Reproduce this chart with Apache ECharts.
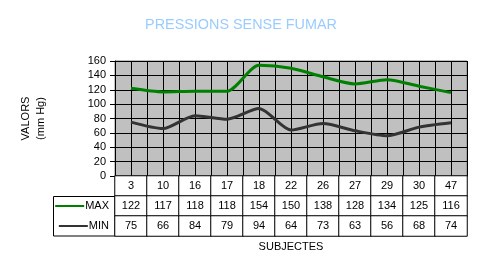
<!DOCTYPE html>
<html>
<head>
<meta charset="utf-8">
<script src="https://cdn.jsdelivr.net/npm/echarts@6/dist/echarts.min.js"></script>
<style>html,body{margin:0;padding:0;background:#fff;}#c{width:482px;height:274px;}</style>
</head>
<body>
<div id="c"></div>
<script>
const categories = ['3','10','16','17','18','22','26','27','29','30','47'];
const maxValues = [122,117,118,118,154,150,138,128,134,125,116];
const minValues = [75,66,84,79,94,64,73,63,56,68,74];
const rowNames = ['MIN','MAX',''];
const yMin = 0, yMax = 160, yStep = 20;

const FONT = 'Liberation Sans, Arial, sans-serif';
const halfCats = [];
categories.forEach(c => { halfCats.push(c + 'a'); halfCats.push(c + 'b'); });

const tableData = [];
categories.forEach((c, i) => {
  tableData.push([i, 2, Number(c)]);
  tableData.push([i, 1, maxValues[i]]);
  tableData.push([i, 0, minValues[i]]);
});

const chart = echarts.init(document.getElementById('c'), null, {renderer: 'canvas'});
chart.setOption({
  animation: false,
  textStyle: {fontFamily: FONT},
  title: {
    text: 'PRESSIONS SENSE FUMAR', left: 'center', top: 13,
    textStyle: {color: '#99ccff', fontSize: 14.4, fontWeight: 'normal', fontFamily: FONT}
  },
  grid: [
    {left: 115, right: 15, top: 61, height: 115, show: true, backgroundColor: '#c0c0c0', borderColor: '#808080', borderWidth: 1},
    {left: 115, right: 15, top: 176, height: 60}
  ],
  visualMap: {show: false, seriesIndex: 2, dimension: 2, min: 0, max: 1000, inRange: {color: ['#ffffff', '#ffffff']}},
  xAxis: [
    {type: 'category', gridIndex: 0, data: categories, boundaryGap: true,
     axisLabel: {show: false}, axisTick: {show: false}, axisLine: {show: true, lineStyle: {color: '#000'}}, splitLine: {show: false}},
    {type: 'category', gridIndex: 0, data: halfCats, boundaryGap: true, position: 'bottom',
     axisLabel: {show: false, interval: 0}, axisTick: {show: false}, axisLine: {show: false},
     splitLine: {show: true, interval: 0, lineStyle: {color: '#000', width: 1}}},
    {type: 'category', gridIndex: 1, data: categories, boundaryGap: true,
     axisLabel: {show: false}, axisTick: {show: false}, axisLine: {show: false},
     name: 'SUBJECTES', nameLocation: 'middle', nameGap: 5,
     nameTextStyle: {color: '#000', fontSize: 11, fontFamily: FONT, verticalAlign: 'top'}}
  ],
  yAxis: [
    {type: 'value', gridIndex: 0, min: yMin, max: yMax, interval: yStep,
     name: 'VALORS\n(mm Hg)', nameLocation: 'middle', nameRotate: 90, nameGap: 67,
     nameTextStyle: {color: '#000', fontSize: 11, lineHeight: 15, fontFamily: FONT},
     axisLine: {show: true, lineStyle: {color: '#000'}},
     axisTick: {show: true, length: 5, lineStyle: {color: '#000'}},
     axisLabel: {color: '#000', fontSize: 11, margin: 9, fontFamily: FONT},
     splitLine: {show: true, lineStyle: {color: '#000', width: 1}}},
    {type: 'category', gridIndex: 1, data: rowNames, boundaryGap: true,
     axisLine: {show: false}, axisTick: {show: false}, splitLine: {show: false},
     axisLabel: {
       margin: 6, fontSize: 11, color: '#000', fontFamily: FONT,
       formatter: v => v === 'MAX' ? '{g|}{t|MAX}' : (v === 'MIN' ? '{k|}{t|MIN}' : ''),
       rich: {
         g: {backgroundColor: '#008000', width: 29, height: 2},
         k: {backgroundColor: '#333333', width: 29, height: 2},
         t: {fontSize: 11, color: '#000', padding: [0, 0, 0, 1], fontFamily: FONT}
       }
     }}
  ],
  series: [
    {name: 'MAX', type: 'line', xAxisIndex: 0, yAxisIndex: 0, data: maxValues, smooth: 0.25,
     symbol: 'none', lineStyle: {color: '#008000', width: 3}, itemStyle: {color: '#008000'}},
    {name: 'MIN', type: 'line', xAxisIndex: 0, yAxisIndex: 0, data: minValues, smooth: 0.25,
     symbol: 'none', lineStyle: {color: '#333333', width: 3}, itemStyle: {color: '#333333'}},
    {name: 'table', type: 'heatmap', xAxisIndex: 2, yAxisIndex: 1, data: tableData,
     itemStyle: {borderColor: '#000', borderWidth: 1},
     label: {show: true, color: '#000', fontSize: 11, fontFamily: FONT, formatter: p => String(p.value[2])},
     emphasis: {disabled: true}}
  ],
  graphic: [
    {type: 'rect', shape: {x: 53.5, y: 196.5, width: 61.5, height: 39.5}, style: {fill: 'none', stroke: '#000', lineWidth: 1}, silent: true}
  ]
});
</script>
</body>
</html>
